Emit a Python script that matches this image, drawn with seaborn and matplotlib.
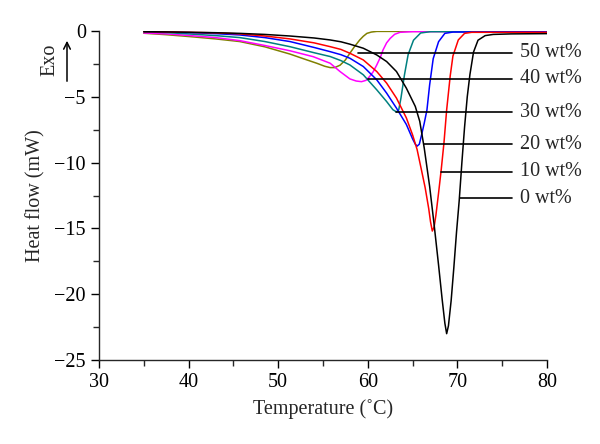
import numpy as np
import pandas as pd
import matplotlib
matplotlib.use("Agg")
import matplotlib.pyplot as plt
from matplotlib.ticker import MultipleLocator
import seaborn as sns

# ---- data ----
labels = ["0 wt%", "10 wt%", "20 wt%", "30 wt%", "40 wt%", "50 wt%"]

T_0 = [35, 37.5, 40.2, 43, 45.7, 48.5, 51.3, 54, 55.8, 57,
       58.0, 59.5, 61.0, 62.1, 63.2, 64.3, 65.3, 65.8, 66.3, 66.9,
       67.4, 67.9, 68.3, 68.6, 68.8, 69.0, 69.3, 69.6, 69.9, 70.2,
       70.5, 70.8, 71.1, 71.4, 71.8, 72.3, 73.1, 74, 76, 80]
H_0 = [-0.05, -0.07, -0.1, -0.13, -0.18, -0.26, -0.38, -0.53, -0.68, -0.82,
       -1.0, -1.31, -1.82, -2.32, -3.08, -4.34, -5.73, -6.87, -8.9, -11.8,
       -14.7, -17.8, -20.4, -22.2, -23.0, -22.4, -20.5, -18.0, -15.3, -12.9,
       -10.0, -7.3, -5.0, -3.3, -1.6, -0.7, -0.35, -0.26, -0.22, -0.2]

T_10 = [35, 37.5, 40.2, 43, 45.7, 48.5, 51.3, 54, 55.8, 57,
        58.0, 59.5, 61.0, 62.1, 63.2, 64.3, 65.0, 65.5, 66.0, 66.4,
        66.8, 67.0, 67.2, 67.4, 67.6, 67.9, 68.2, 68.5, 68.8, 69.2,
        69.5, 70.1, 70.8, 71.6, 73, 80]
H_10 = [-0.05, -0.07, -0.1, -0.14, -0.22, -0.38, -0.6, -0.9, -1.19, -1.4,
        -1.69, -2.2, -3.08, -3.96, -5.1, -6.6, -7.9, -9.0, -10.6, -11.9,
        -13.5, -14.5, -15.2, -14.9, -14.0, -12.3, -10.5, -8.5, -6.0, -3.4,
        -1.9, -0.68, -0.18, -0.1, -0.1, -0.1]

T_20 = [35, 37.5, 40.2, 43, 45.7, 48.5, 51.3, 54, 55.8, 57,
        58.0, 59.5, 61.0, 62.1, 63.2, 64.3, 65.0, 65.3, 65.5, 65.75,
        66.0, 66.3, 66.6, 66.9, 67.3, 67.9, 68.6, 69.5, 80]
H_20 = [-0.05, -0.08, -0.12, -0.2, -0.3, -0.5, -0.8, -1.25, -1.57, -1.8,
        -2.07, -2.7, -3.71, -4.72, -5.86, -7.1, -8.2, -8.6, -8.75, -8.6,
        -7.9, -7.0, -6.0, -4.1, -2.1, -0.81, -0.18, -0.08, -0.05]

T_30 = [35, 37.5, 40.2, 43, 45.7, 48.5, 51.3, 54, 55.8, 57,
        58.0, 59.5, 61.0, 62.1, 62.8, 63.2, 63.45, 63.7, 64.1, 64.5,
        65.1, 65.9, 67, 80]
H_30 = [-0.06, -0.12, -0.23, -0.35, -0.5, -0.8, -1.19, -1.65, -1.94, -2.25,
        -2.58, -3.33, -4.47, -5.36, -5.98, -6.15, -6.0, -5.1, -3.3, -1.8,
        -0.7, -0.15, -0.05, -0.05]

T_40 = [35, 37.5, 40.2, 43, 45.7, 48.5, 51.3, 53.9, 55.8, 56.9,
        58.0, 58.7, 59.3, 59.8, 60.2, 60.6, 61.0, 61.4, 61.7, 62.1,
        62.5, 63.0, 63.6, 65, 80]
H_40 = [-0.15, -0.22, -0.35, -0.5, -0.73, -1.1, -1.5, -1.95, -2.45, -3.08,
        -3.64, -3.8, -3.85, -3.75, -3.46, -3.1, -2.58, -2.0, -1.44, -0.9,
        -0.56, -0.25, -0.1, -0.05, -0.03]

T_50 = [35, 37.5, 40.2, 43, 45.7, 48.5, 51.3, 53, 54.3, 55.2,
        55.8, 56.3, 56.9, 57.5, 58.0, 58.5, 59.1, 59.5, 59.9, 60.4,
        61, 80]
H_50 = [-0.17, -0.28, -0.43, -0.6, -0.8, -1.2, -1.75, -2.15, -2.45, -2.68,
        -2.78, -2.78, -2.6, -2.2, -1.69, -1.2, -0.68, -0.4, -0.18, -0.08,
        -0.03, -0.02]

x_ticks = [30, 40, 50, 60, 70, 80]
y_ticks = [0, -5, -10, -15, -20, -25]

# ---- annotation layout (leader lines to labels) ----
label_y = [-12.7, -10.7, -8.6, -6.16, -3.64, -1.64]
label_x0 = [70.3, 68.2, 66.3, 63.2, 60.0, 58.9]
label_x1 = 76.1
label_tx = 77.0

colors = ["#000000", "#ff0000", "#0000ff", "#008080", "#ff00ff", "#808000"]

series = [(T_0, H_0), (T_10, H_10), (T_20, H_20), (T_30, H_30), (T_40, H_40), (T_50, H_50)]
frames = []
for lab, (t, h) in zip(labels, series):
    n = min(len(t), len(h))
    frames.append(pd.DataFrame({"T": t[:n], "H": h[:n], "sample": lab}))
df = pd.concat(frames, ignore_index=True)

sns.set_style("ticks")
plt.rcParams["font.family"] = ["Liberation Serif", "DejaVu Serif"]
plt.rcParams["axes.linewidth"] = 1.0

FS = 14.5

fig = plt.figure(figsize=(6.0, 4.44), dpi=100)
ax = fig.add_axes([99 / 600, 1 - 360 / 444, 448 / 600, 329 / 444])

for lab, col in reversed(list(zip(labels, colors))):
    sub = df[df["sample"] == lab]
    sns.lineplot(data=sub, x="T", y="H", ax=ax, color=col, lw=1.1,
                 sort=False, estimator=None, legend=False)

for lab, y, x0 in zip(labels, label_y, label_x0):
    ax.plot([x0, label_x1], [y, y], color="black", lw=1.2)
    ax.text(label_tx, y, lab, fontsize=FS, va="center", ha="left", clip_on=False)

ax.set_xlim(30, 80)
ax.set_ylim(-25, 0)
ax.set_xticks(x_ticks)
ax.set_yticks(y_ticks)
ax.xaxis.set_minor_locator(MultipleLocator(5))
ax.yaxis.set_minor_locator(MultipleLocator(2.5))
ax.tick_params(which="major", direction="out", length=6, width=1.0, labelsize=FS,
               colors="black")
ax.tick_params(which="minor", direction="out", length=4, width=1.0)
sns.despine(ax=ax)

ax.set_xlabel("Temperature (\u02daC)", fontsize=FS)
ax.set_ylabel("Heat flow (mW)", fontsize=FS)
ax.xaxis.set_label_coords(0.5, -0.12)
ax.yaxis.set_label_coords(-0.12, 0.5)

# Exo arrow
fig.text(50 / 600, 1 - 60 / 444, "Exo", rotation=90, fontsize=FS, ha="center", va="center")
fig.patches.append(matplotlib.patches.FancyArrowPatch(
    (67 / 600, 1 - 84 / 444), (67 / 600, 1 - 38 / 444), transform=fig.transFigure,
    arrowstyle="->", mutation_scale=12, lw=1.1, color="black"))

fig.savefig("out.png", dpi=100)
